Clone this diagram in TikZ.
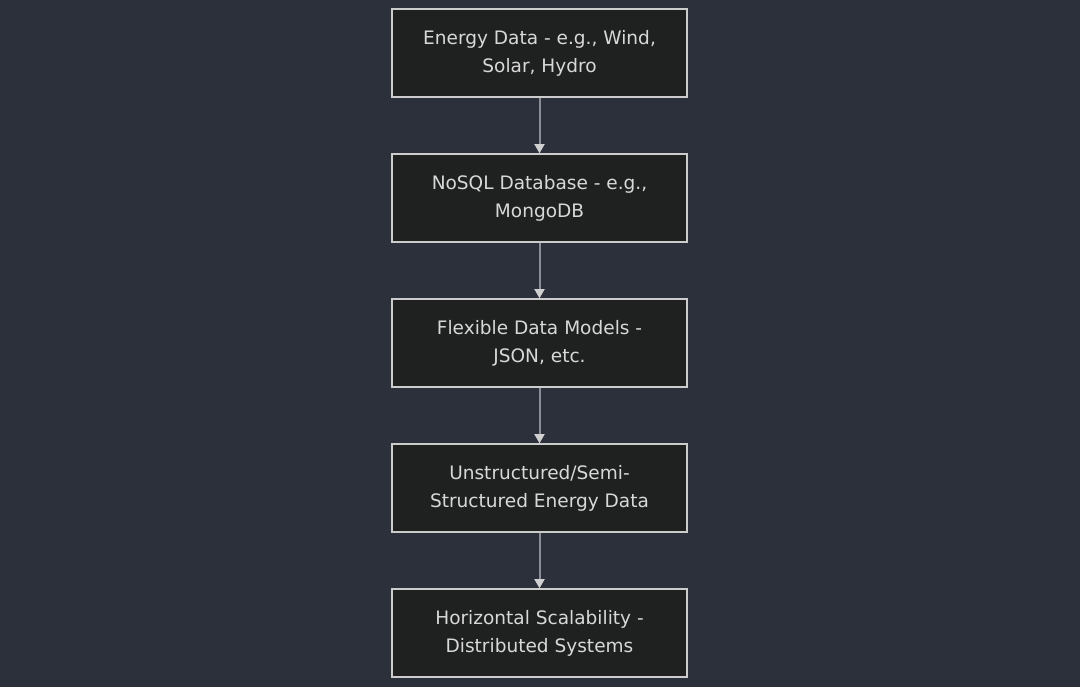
\documentclass[tikz,border=0pt]{standalone}
\usepackage{fontspec}
\setmainfont{DejaVu Sans}
\usetikzlibrary{arrows.meta}
\definecolor{bg}{HTML}{2B303B}
\definecolor{boxfill}{HTML}{1F2020}
\definecolor{boxline}{HTML}{CCCCCC}
\definecolor{txt}{HTML}{D8D8D8}
\definecolor{edge}{HTML}{8A8D96}
\definecolor{tip}{HTML}{D0D0D0}
\begin{document}
\begin{tikzpicture}[x=0.75pt,y=-0.75pt,
  flowbox/.style={draw=boxline,fill=boxfill,line width=1pt,minimum width=295*0.75pt,minimum height=88*0.75pt,
    text=txt,align=center,font=\fontsize{13.9}{21}\selectfont,inner sep=0pt},
  flowedge/.style={draw=edge,line width=1.5pt,-{Triangle[length=7pt,width=7.5pt,fill=tip,color=tip]}}]
\fill[bg] (0,0) rectangle (1080,687);
\useasboundingbox (0,0) rectangle (1080,687);
\node[flowbox] (a) at (539.5,53) {Energy Data - e.g., Wind,\\Solar, Hydro};
\node[flowbox] (b) at (539.5,198) {NoSQL Database - e.g.,\\MongoDB};
\node[flowbox] (c) at (539.5,343) {Flexible Data Models -\\JSON, etc.};
\node[flowbox] (d) at (539.5,488) {Unstructured/Semi-\\Structured Energy Data};
\node[flowbox] (e) at (539.5,633) {Horizontal Scalability -\\Distributed Systems};
\draw[flowedge] (a) -- (b);
\draw[flowedge] (b) -- (c);
\draw[flowedge] (c) -- (d);
\draw[flowedge] (d) -- (e);
\end{tikzpicture}
\end{document}
